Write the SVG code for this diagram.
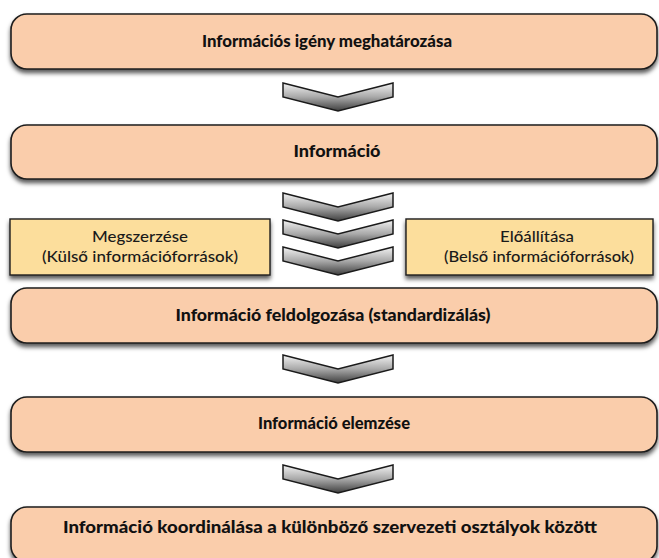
<svg xmlns="http://www.w3.org/2000/svg" width="659" height="558" viewBox="0 0 659 558">
<defs>
<style>
.box{fill:#FACDAB;stroke:#1e1e1e;stroke-width:1.6;filter:url(#sh)}
.ybox{fill:#FCDE9C;stroke:#1e1e1e;stroke-width:1.4;filter:url(#sh)}
.chev{fill:url(#cg);stroke:#1a1a1a;stroke-width:1.5;stroke-linejoin:miter}
.bt{font-family:Lato,"Liberation Sans",sans-serif;font-weight:900;font-size:16px;fill:#111;text-anchor:middle}
.rt{font-family:Lato,"Liberation Sans",sans-serif;font-weight:500;font-size:16px;fill:#1a1a1a;text-anchor:middle}
</style>
<filter id="sh" x="-5%" y="-20%" width="110%" height="150%">
<feDropShadow dx="0" dy="3.5" stdDeviation="2.2" flood-color="#000" flood-opacity="0.65"/>
</filter>
<linearGradient id="cg" x1="0" y1="0" x2="0" y2="1">
<stop offset="0" stop-color="#f2f2f2"/>
<stop offset="0.5" stop-color="#a9a9a9"/>
<stop offset="1" stop-color="#3e3e3e"/>
</linearGradient>
<path id="chv" d="M0,0 L55,14 L110,0 L110,14 L55,28 L0,14 Z"/>
</defs>
<rect width="659" height="558" fill="#ffffff"/>
<g id="connectors">
<use href="#chv" class="chev" x="283" y="83"/>
<use href="#chv" class="chev" x="283" y="193"/>
<use href="#chv" class="chev" x="283" y="220"/>
<use href="#chv" class="chev" x="283" y="247"/>
<use href="#chv" class="chev" x="283" y="355"/>
<use href="#chv" class="chev" x="283" y="465"/>
</g>
<g id="n1">
<rect class="box" x="11" y="14" width="646" height="55" rx="16"/>
<text class="bt" x="327" y="47" textLength="250" lengthAdjust="spacingAndGlyphs">Információs igény meghatározása</text>
</g>
<g id="n2">
<rect class="box" x="11" y="125" width="646" height="54" rx="16"/>
<text class="bt" x="337" y="157" textLength="87" lengthAdjust="spacingAndGlyphs">Információ</text>
</g>
<g id="n3">
<rect class="ybox" x="10" y="219" width="260" height="56"/>
<text class="rt" x="140" y="242" textLength="96" lengthAdjust="spacingAndGlyphs">Megszerzése</text>
<text class="rt" x="140" y="262" textLength="196" lengthAdjust="spacingAndGlyphs">(Külső információforrások)</text>
</g>
<g id="n4">
<rect class="ybox" x="406" y="219" width="247" height="56"/>
<text class="rt" x="537" y="242" textLength="74" lengthAdjust="spacingAndGlyphs">Előállítása</text>
<text class="rt" x="539" y="262" textLength="190" lengthAdjust="spacingAndGlyphs">(Belső információforrások)</text>
</g>
<g id="n5">
<rect class="box" x="11" y="288" width="646" height="55" rx="16"/>
<text class="bt" x="333" y="321" textLength="315" lengthAdjust="spacingAndGlyphs">Információ feldolgozása (standardizálás)</text>
</g>
<g id="n6">
<rect class="box" x="11" y="397" width="646" height="55" rx="16"/>
<text class="bt" x="334" y="429" textLength="152" lengthAdjust="spacingAndGlyphs">Információ elemzése</text>
</g>
<g id="n7">
<rect class="box" x="11" y="507" width="646" height="55" rx="16"/>
<text class="bt" x="330" y="533" textLength="534" lengthAdjust="spacingAndGlyphs">Információ koordinálása a különböző szervezeti osztályok között</text>
</g>
</svg>
